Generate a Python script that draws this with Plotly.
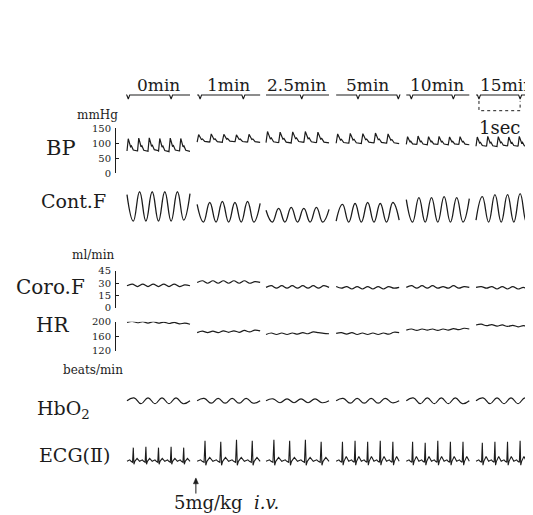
import plotly.graph_objects as go

W, H = 533, 515
FONT = "DejaVu Serif, Liberation Serif, serif"
INK = "#1c1c1c"

# ---------------- data ----------------
SEGMENT_LABELS = ["0min", "1min", "2.5min", "5min", "10min", "15min"]
SEGMENT_START_S = [0.0, 1.67, 3.31, 4.98, 6.65, 8.31]
SEGMENT_LEN_S = 1.5

# time-marker notches (s from segment start)
MARKER_NOTCHES_S = [[0.03, 1.05], [0.07, 1.10], [0.85], [0.52, 1.48], [0.12, 1.12], [0.07, 1.05]]
ONE_SEC_BAR_S = [0.07, 1.05]          # within the 15 min segment
INJECTION_S = 1.64                    # 5 mg/kg i.v. given here

# arterial blood pressure, mmHg (systolic / diastolic per beat)
BP_SYS = [[115, 117, 118, 116, 117, 116],
          [129, 131, 130, 128, 130],
          [139, 137, 138, 139, 137],
          [131, 133, 132, 134, 131],
          [122, 124, 122, 123, 121, 122],
          [121, 123, 122, 121, 123, 122]]
BP_DIA = [[74, 73, 75, 72, 74, 73],
          [104, 103, 105, 104, 103],
          [102, 101, 103, 102, 101],
          [100, 99, 101, 100, 99],
          [96, 95, 96, 95, 96, 95],
          [90, 89, 91, 90, 89, 90]]
BP_BEAT_FRAC = [0.0, 0.12, 0.22, 0.34, 0.42, 0.60, 1.0]
BP_BEAT_LEVEL = [0.0, 1.0, 0.70, 0.35, 0.42, 0.08, 0.0]

# contractile force (arbitrary units), alternating extremes
CONTF = [[30, 3, 33, 3, 33, 3, 33, 3, 33, 4, 31],
         [20, 2, 22, 2, 23, 2, 22, 2, 23, 2, 21],
         [14, 2, 16, 2, 17, 2, 16, 2, 17, 2, 15],
         [3, 20, 2, 21, 2, 22, 2, 21, 2, 22, 4],
         [25, 2, 27, 2, 27, 2, 28, 2, 27, 2, 26],
         [4, 28, 2, 30, 2, 30, 2, 31, 2, 30, 3]]

# coronary flow, ml/min
CORO = [[27, 29, 26, 29, 26, 29, 26, 29, 26, 29, 26, 28, 27],
        [31, 33, 30, 33, 30, 33, 30, 33, 30, 33, 30, 32, 31],
        [25, 27, 24, 27, 24, 27, 24, 27, 24, 27, 24, 27, 25],
        [26, 24, 26, 23, 26, 23, 26, 23, 26, 23, 26, 24, 25],
        [25, 27, 24, 27, 24, 27, 24, 26, 24, 27, 24, 26, 25],
        [25, 26, 24, 26, 23, 26, 23, 26, 23, 25, 23, 25, 24]]

# heart rate, beats/min
HR = [[198, 201, 197, 200, 196, 200, 196, 199, 195, 198, 194, 196, 193],
      [170, 174, 170, 174, 170, 175, 171, 175, 171, 176, 172, 177, 175],
      [165, 169, 165, 169, 165, 169, 166, 170, 167, 172, 170, 168, 167],
      [168, 170, 166, 170, 165, 169, 165, 169, 165, 169, 166, 171, 170],
      [177, 180, 176, 180, 177, 180, 176, 180, 177, 181, 178, 182, 180],
      [191, 193, 189, 192, 188, 191, 187, 190, 186, 189, 186, 189, 186]]

# HbO2 (arbitrary units)
HBO2 = [[0, 3, -3, 3, -3, 3, -3, 3, -3, 0],
        [0, 2.5, -2.5, 2.5, -2.5, 2.5, -2.5, 2.5, -2.5, 0],
        [0, 2, -2, 2, -2, 2, -2, 2, -2, 0],
        [0, 2.5, -2.5, 2.5, -2.5, 2.5, -2.5, 2.5, -2, 0],
        [0, 3, -3, 3, -3, 3, -3, 3, -3, 0],
        [0, 3, -3, 3, -3, 3, -3, 3, -3, 0]]

# ECG lead II (arbitrary units): R, S and T amplitudes per beat
ECG_R = [[14, 15, 14, 15, 14],
         [21, 20, 22, 21],
         [22, 21, 22, 20],
         [20, 21, 20, 21, 20],
         [20, 19, 21, 20, 20],
         [19, 20, 20, 21, 19]]
ECG_S = [-3, -4, -4, -4, -4, -4]
ECG_T = [3, 4, 4, 5, 5, 5]
ECG_P = 1.5
ECG_Q = -1.0
ECG_BEAT_FRAC = [0.0, 0.22, 0.32, 0.44, 0.50, 0.55, 0.62, 0.80, 1.0]

BP_TICKS = [0, 50, 100, 150]
CORO_TICKS = [0, 15, 30, 45]
HR_TICKS = [120, 160, 200]

# ---------------- geometry ----------------
X_ORIGIN_PX, PX_PER_S = 119, 42.0
X_RANGE = [-X_ORIGIN_PX / PX_PER_S, (W - X_ORIGIN_PX) / PX_PER_S]


def dom(top_px, bot_px):
    return [1 - bot_px / H, 1 - top_px / H]


def py(p):
    return 1 - p / H


def even_segments(series):
    xs, ys = [], []
    for i, vals in enumerate(series):
        n = len(vals)
        t0 = SEGMENT_START_S[i]
        for k, v in enumerate(vals):
            xs.append(t0 + SEGMENT_LEN_S * k / (n - 1))
            ys.append(v)
        xs.append(None)
        ys.append(None)
    return xs, ys


fig = go.Figure()

# time marker
mx, my = [], []
for i, notches in enumerate(MARKER_NOTCHES_S):
    t0 = SEGMENT_START_S[i]
    mx.append(t0); my.append(0)
    for tn in notches:
        mx += [t0 + tn - 0.035, t0 + tn, t0 + tn + 0.035]
        my += [0, -4, 0]
    mx.append(t0 + SEGMENT_LEN_S); my.append(0)
    mx.append(None); my.append(None)
fig.add_trace(go.Scatter(x=mx, y=my, mode="lines", line=dict(color=INK, width=1.1), yaxis="y"))

# BP
bx, by = [], []
for i, (sys_, dia_) in enumerate(zip(BP_SYS, BP_DIA)):
    n = len(sys_)
    L = SEGMENT_LEN_S / n
    t0 = SEGMENT_START_S[i]
    for k in range(n):
        for f, lv in zip(BP_BEAT_FRAC, BP_BEAT_LEVEL):
            bx.append(t0 + (k + f) * L)
            by.append(dia_[k] + lv * (sys_[k] - dia_[k]))
    bx.append(None); by.append(None)
fig.add_trace(go.Scatter(x=bx, y=by, mode="lines", line=dict(color=INK, width=1.2), yaxis="y2"))

# Cont.F
cx, cy = even_segments(CONTF)
fig.add_trace(go.Scatter(x=cx, y=cy, mode="lines",
                         line=dict(color=INK, width=1.3, shape="spline", smoothing=1.3), yaxis="y3"))

# Coro.F
cx, cy = even_segments(CORO)
fig.add_trace(go.Scatter(x=cx, y=cy, mode="lines", line=dict(color=INK, width=1.2, shape="spline"), yaxis="y4"))

# HR
hx, hy = even_segments(HR)
fig.add_trace(go.Scatter(x=hx, y=hy, mode="lines", line=dict(color=INK, width=1.2, shape="spline"), yaxis="y5"))

# HbO2
ox, oy = even_segments(HBO2)
fig.add_trace(go.Scatter(x=ox, y=oy, mode="lines",
                         line=dict(color=INK, width=1.2, shape="spline", smoothing=1.3), yaxis="y6"))

# ECG
ex, ey = [], []
for i, rs in enumerate(ECG_R):
    n = len(rs)
    L = SEGMENT_LEN_S / n
    t0 = SEGMENT_START_S[i]
    for k, r in enumerate(rs):
        levels = [0, ECG_P, 0, ECG_Q, r, ECG_S[i], 0, ECG_T[i], 0]
        for f, lv in zip(ECG_BEAT_FRAC, levels):
            ex.append(t0 + (k + f) * L)
            ey.append(lv)
    ex.append(None); ey.append(None)
fig.add_trace(go.Scatter(x=ex, y=ey, mode="lines", line=dict(color=INK, width=1.1), yaxis="y7"))

# ---------------- axes ----------------
hidden = dict(visible=False, fixedrange=True, anchor="x")
tick_axis = dict(anchor="free", position=107 / W, side="left", showline=True, linecolor=INK,
                 linewidth=1, ticks="inside", ticklen=3, tickcolor=INK, showgrid=False,
                 zeroline=False, tickfont=dict(family=FONT, size=10, color=INK), ticklabelstandoff=2)

fig.update_layout(
    width=W, height=H, margin=dict(l=0, r=0, t=0, b=0),
    paper_bgcolor="white", plot_bgcolor="white", showlegend=False,
    xaxis=dict(range=X_RANGE, visible=False),
    yaxis=dict(domain=dom(77, 91), range=[-8, 6], **hidden),
    yaxis2=dict(domain=dom(117, 163), range=[0, 150], tickvals=BP_TICKS, **tick_axis),
    yaxis3=dict(domain=dom(178, 216), range=[-1, 37], **hidden),
    yaxis4=dict(domain=dom(263, 301), range=[0, 45], tickvals=CORO_TICKS, **tick_axis),
    yaxis5=dict(domain=dom(315, 345), range=[120, 200], tickvals=HR_TICKS, **tick_axis),
    yaxis6=dict(domain=dom(386, 406), range=[-10, 10], **hidden),
    yaxis7=dict(domain=dom(430, 466), range=[-8, 28], **hidden),
)

# 1-sec bracket
t15 = SEGMENT_START_S[-1]
fig.add_shape(type="path", xref="x", yref="paper",
              path=f"M {t15 + ONE_SEC_BAR_S[0]} {py(89)} L {t15 + ONE_SEC_BAR_S[0]} {py(99)} "
                   f"L {t15 + ONE_SEC_BAR_S[1]} {py(99)} L {t15 + ONE_SEC_BAR_S[1]} {py(89)}",
              line=dict(color=INK, width=1, dash="dot"))

# injection arrow (shaft + head drawn as shapes)
ah = 2.5 / PX_PER_S
fig.add_shape(type="line", xref="x", yref="paper", x0=INJECTION_S, x1=INJECTION_S,
              y0=py(491), y1=py(476), line=dict(color=INK, width=1))
fig.add_shape(type="path", xref="x", yref="paper",
              path=f"M {INJECTION_S - ah} {py(481)} L {INJECTION_S} {py(475)} L {INJECTION_S + ah} {py(481)} Z",
              fillcolor=INK, line=dict(color=INK, width=0.5))


def label(text, xpx, ypx, size, xanchor="center"):
    fig.add_annotation(text=text, x=xpx / W, y=py(ypx), xref="paper", yref="paper",
                       showarrow=False, xanchor=xanchor, yanchor="middle",
                       font=dict(family=FONT, size=size, color=INK))


for i, lab in enumerate(SEGMENT_LABELS):
    fig.add_annotation(text=lab, x=SEGMENT_START_S[i] + 0.74, y=py(73),
                       xref="x", yref="paper", showarrow=False, yanchor="middle",
                       font=dict(family=FONT, size=17, color=INK))
fig.add_annotation(text="1sec", x=t15 + sum(ONE_SEC_BAR_S) / 2, y=py(116), xref="x", yref="paper",
                   showarrow=False, yanchor="middle", font=dict(family=FONT, size=18, color=INK))

label("mmHg", 89, 103, 12)
label("BP", 53, 137, 21)
label("Cont.F", 65, 191, 19)
label("ml/min", 85, 247, 12)
label("Coro.F", 42, 280, 20)
label("HR", 44, 318, 20)
label("beats/min", 85, 365, 12)
label("HbO<sub>2</sub>", 55, 405, 19)
label("ECG(Ⅱ)", 66, 452, 19)
label("5mg/kg  <i>i.v.</i>", 218, 500, 18)

fig.write_html("out.html")
